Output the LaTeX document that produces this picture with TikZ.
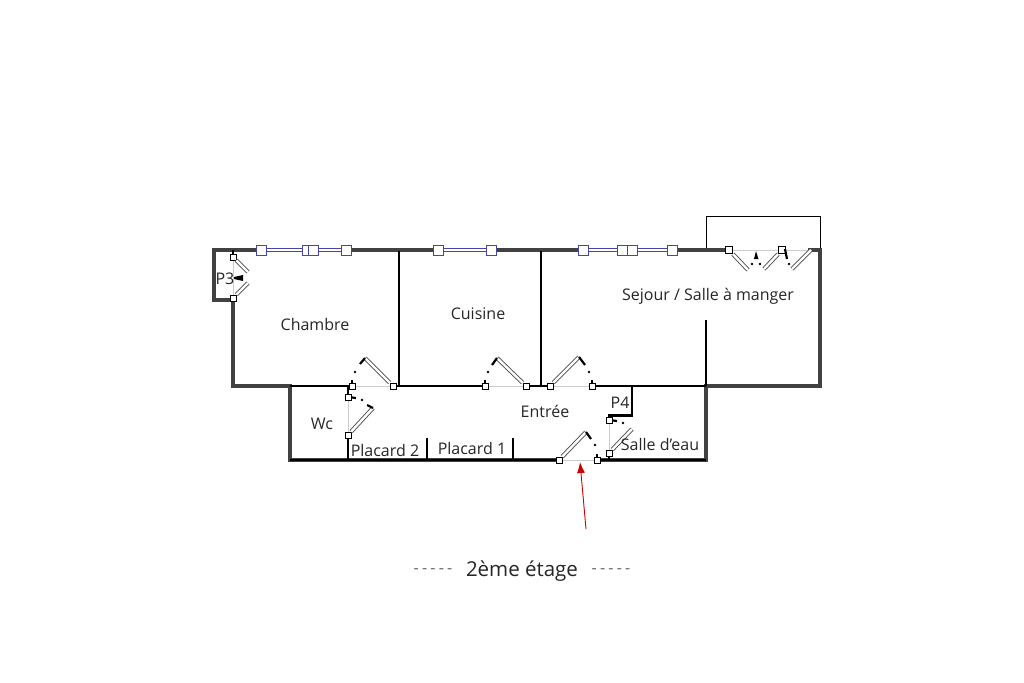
\documentclass[tikz,border=0pt]{standalone}
\usepackage{fontspec}
\usetikzlibrary{arrows.meta}
\setmainfont{Open Sans}
\definecolor{wallgray}{RGB}{65,65,65}
\definecolor{winblue}{RGB}{70,70,170}
\tikzset{
    wall/.style={line width=3.7pt, color=wallgray, line join=miter},
    inner/.style={line width=2.5pt, color=black},
    thin/.style={line width=0.5pt, color=black!20},
    leaf/.style={line width=0.9pt, draw=black!70, double=white, double distance=2.4pt},
    swing/.style={line width=2.2pt, color=black},
    dot/.style={circle, fill=black, inner sep=0pt, minimum size=2.6pt},
    hinge/.style={draw=black, fill=white, line width=0.7pt, inner sep=0pt, minimum size=6pt},
    casement/.style={draw=winblue, fill=white, line width=1pt, inner sep=0pt, minimum size=10pt},
    pane/.style={line width=1.1pt, draw=winblue, double=white, double distance=2.4pt},
    room/.style={font=\fontsize{16}{19}\selectfont, text=black!85, inner sep=0pt}
}
\begin{document}
\begin{tikzpicture}[x=1pt,y=-1pt]
    \useasboundingbox (0,0) rectangle (1024,682);
    % balcon
    \draw[line width=0.9pt] (706,250) -- (706,216.5) -- (820,216.5) -- (820,250);
    % murs exterieurs
    \draw[wall] (259,250) -- (214,250) -- (214,300) -- (233,300) -- (233,386) -- (290,386) -- (290,460) -- (558,460);
    \draw[wall] (597,460) -- (706,460) -- (706,386) -- (820,386) -- (820,250) -- (808,250);
    \draw[wall] (346,250) -- (438,250);
    \draw[wall] (491,250) -- (583,250);
    \draw[wall] (672,250) -- (729,250);
    % cloisons
    \draw[inner] (290,386) -- (352,386);
    \draw[inner] (393,386) -- (485,386);
    \draw[inner] (526,386) -- (550,386);
    \draw[inner] (592,386) -- (706,386);
    \draw[inner] (399,251) -- (399,386);
    \draw[inner] (541,251) -- (541,386);
    \draw[inner] (706,320) -- (706,386);
    \draw[inner] (632,386) -- (632,415.5) -- (609,415.5) -- (609,420);
    \draw[inner] (348,386) -- (348,397);
    \draw[inner] (348,435) -- (348,460);
    \draw[inner] (427,438) -- (427,460);
    \draw[inner] (513,438) -- (513,460);
    \draw[inner] (609,453) -- (609,460);
    \draw[inner] (290,460) -- (558,460);
    \draw[inner] (597,460) -- (706,460);
    % fenetres
    \node[casement] (w1) at (261,250) {};
    \node[casement] (w2) at (307,250) {};
    \node[casement] (w3) at (313,250) {};
    \node[casement] (w4) at (346,250) {};
    \node[casement] (w5) at (438,250) {};
    \node[casement] (w6) at (491,250) {};
    \node[casement] (w7) at (583,250) {};
    \node[casement] (w8) at (622,250) {};
    \node[casement] (w9) at (632,250) {};
    \node[casement] (w10) at (672,250) {};
    \draw[pane] (w1) -- (w2);
    \draw[pane] (w3) -- (w4);
    \draw[pane] (w5) -- (w6);
    \draw[pane] (w7) -- (w8);
    \draw[pane] (w9) -- (w10);
    % seuils
    \draw[thin] (233,257) -- (233,298);
    \draw[thin] (352,386) -- (393,386);
    \draw[thin] (348,397) -- (348,435);
    \draw[thin] (485,386) -- (526,386);
    \draw[thin] (550,386) -- (592,386);
    \draw[thin] (559,460) -- (597,460);
    \draw[thin] (609,420) -- (609,453);
    \draw[thin] (729,250) -- (810,250);
    % portes
    \draw[swing] (233,250) -- (233,254);
    \node[hinge] (p3a) at (233,257) {};
    \node[hinge] (p3b) at (233,298) {};
    \draw[leaf] (p3a) -- (248,272);
    \draw[leaf] (p3b) -- (248,283);
    \fill (234,277) -- (243,275) -- (243,281) -- (234,279) -- cycle;
    \node[hinge] (ch1) at (393,386) {};
    \node[hinge] (ch2) at (352,386) {};
    \draw[leaf] (ch1) -- (365,358);
    \draw[swing] (365,358) -- (360,364);
    \node[dot] (ch3) at (355,372) {};
    \draw[swing] (ch2) -- (352,380);
    \node[hinge] (cu1) at (526,386) {};
    \node[hinge] (cu2) at (485,386) {};
    \draw[leaf] (cu1) -- (497,358);
    \draw[swing] (497,358) -- (492,365);
    \node[dot] (cu3) at (488,372) {};
    \draw[swing] (cu2) -- (485,380);
    \node[hinge] (sj1) at (550,386) {};
    \node[hinge] (sj2) at (592,386) {};
    \draw[leaf] (sj1) -- (579,357);
    \draw[swing] (579,357) -- (585,365);
    \node[dot] (sj3) at (589,372) {};
    \draw[swing] (sj2) -- (592,380);
    \node[hinge] (wc1) at (348,435) {};
    \node[hinge] (wc2) at (348,397) {};
    \draw[leaf] (wc1) -- (373,408);
    \draw[swing] (373,408) -- (367,405);
    \node[dot] (wc3) at (362,400) {};
    \draw[swing] (wc2) -- (356,398);
    \node[hinge] (en1) at (559,460) {};
    \node[hinge] (en2) at (597,460) {};
    \draw[leaf] (en1) -- (586,432);
    \draw[swing] (586,432) -- (591,439);
    \node[dot] (en3) at (595,445) {};
    \draw[swing] (en2) -- (597,454);
    \node[hinge] (p4a) at (609,453) {};
    \node[hinge] (p4b) at (609,420) {};
    \draw[leaf] (p4a) -- (632,429);
    \node[dot] (p4c) at (623,423) {};
    \draw[swing] (p4b) -- (617,421);
    % porte-fenetre
    \node[hinge, minimum size=7.5pt] (bl1) at (729,250) {};
    \node[hinge, minimum size=7.5pt] (bl2) at (782,250) {};
    \coordinate (bl3) at (811,250);
    \draw[leaf] (bl1) -- (748,270);
    \draw[leaf] (bl2) -- (764,269);
    \draw[leaf] (bl3) -- (792,269);
    \fill (756,251) -- (754,259) -- (758.5,259) -- cycle;
    \node[dot] (bl4) at (752,264) {};
    \node[dot] (bl5) at (760,264) {};
    \draw[swing] (785,249) -- (787,259);
    \node[dot] (bl6) at (789,264) {};
    % pieces
    \node[room] (chambre) at (315,324) {Chambre};
    \node[room] (cuisine) at (478,314) {Cuisine};
    \node[room] (sejour) at (708,296) {Sejour / Salle à manger};
    \node[room] (entree) at (545,411) {Entrée};
    \node[room] (wc) at (322,424) {Wc};
    \node[room] (placard2) at (385,450) {Placard 2};
    \node[room] (placard1) at (472,448) {Placard 1};
    \node[room] (eau) at (660,444) {Salle d'eau};
    \node[room] (p3) at (225,279) {P3};
    \node[room] (p4) at (620,403) {P4};
    % entree
    \coordinate (entrytail) at (586,529);
    \coordinate (entryhead) at (580,462);
    \draw[-{Latex[length=11pt,width=8pt]}, color=red!80!black, line width=0.9pt] (entrytail) -- (entryhead);
    % titre
    \node[room, font=\fontsize{20.5}{24}\selectfont] (titre) at (522,571) {2ème étage};
    \node[room, text=black!60] (dashl) at (433,571) {\addfontfeature{LetterSpace=20}{-}{-}{-}{-}{-}};
    \node[room, text=black!60] (dashr) at (611,571) {\addfontfeature{LetterSpace=20}{-}{-}{-}{-}{-}};
\end{tikzpicture}
\end{document}
